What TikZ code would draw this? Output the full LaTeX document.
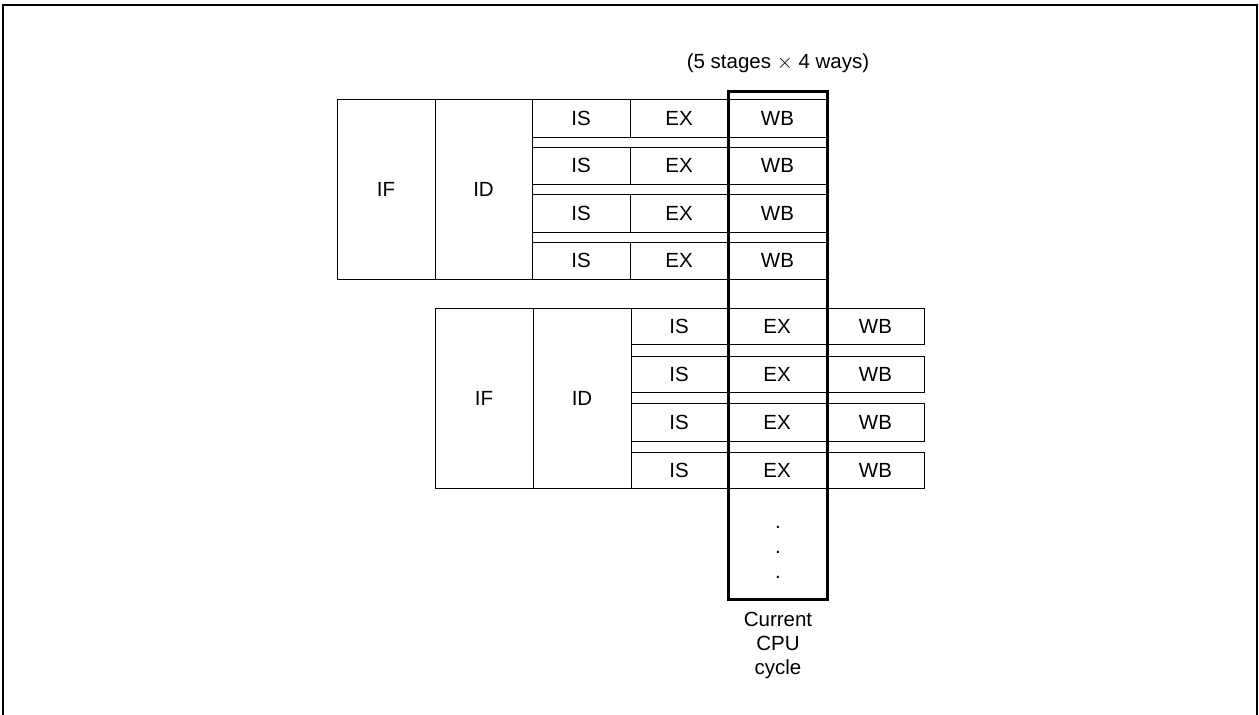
\documentclass[tikz,border=0pt]{standalone}
\usepackage{fontspec}
\setmainfont{Liberation Sans}
\begin{document}
\begin{tikzpicture}[x=1pt,y=-1pt,
  cell/.style={draw, line width=0.8pt, inner sep=0pt, font=\fontsize{20.5}{24}\selectfont},
  thickbox/.style={draw, line width=3pt, inner sep=0pt},
  lbl/.style={inner sep=0pt, font=\fontsize{20.5}{24}\selectfont, align=center},
  frame/.style={line width=2pt}]
\useasboundingbox (0,0) rectangle (1259,715);
\newcommand\cellat[6]{\node[cell, minimum width={(#4-#2)*1pt}, minimum height={(#5-#3)*1pt}] (#1) at ({(#2+#4)/2},{(#3+#5)/2}) {#6};}
% outer frame
\draw[frame] (3,716) -- (3,5) -- (1257,5) -- (1257,716);
% top block
\cellat{tif}{337}{99}{435}{279}{IF}
\cellat{tid}{435}{99}{532}{279}{ID}
\foreach \i/\a/\b in {1/99/137, 2/147/184, 3/194/232, 4/242/279}{
  \cellat{tis\i}{532}{\a}{630}{\b}{IS}
  \cellat{tex\i}{630}{\a}{728}{\b}{EX}
  \cellat{twb\i}{728}{\a}{827}{\b}{WB}
}
% bottom block
\cellat{bif}{435}{308}{533}{488}{IF}
\cellat{bid}{533}{308}{631}{488}{ID}
\foreach \i/\a/\b in {1/308/344, 2/356/392, 3/403/441, 4/452/488}{
  \cellat{bis\i}{631}{\a}{727}{\b}{IS}
  \cellat{bex\i}{727}{\a}{827}{\b}{EX}
  \cellat{bwb\i}{827}{\a}{924}{\b}{WB}
}
% current cycle box
\node[thickbox, minimum width=99pt, minimum height=508pt] (cur) at (777.5,345) {};
\node[lbl] (head) at (778,63) {(5 stages $\times$ 4 ways)};
\node[lbl] (d1) at (778,527) {.};
\node[lbl] (d2) at (778,552) {.};
\node[lbl] (d3) at (778,577) {.};
\node[lbl] (cap) at (778,645) {Current\\CPU\\cycle};
\end{tikzpicture}
\end{document}
